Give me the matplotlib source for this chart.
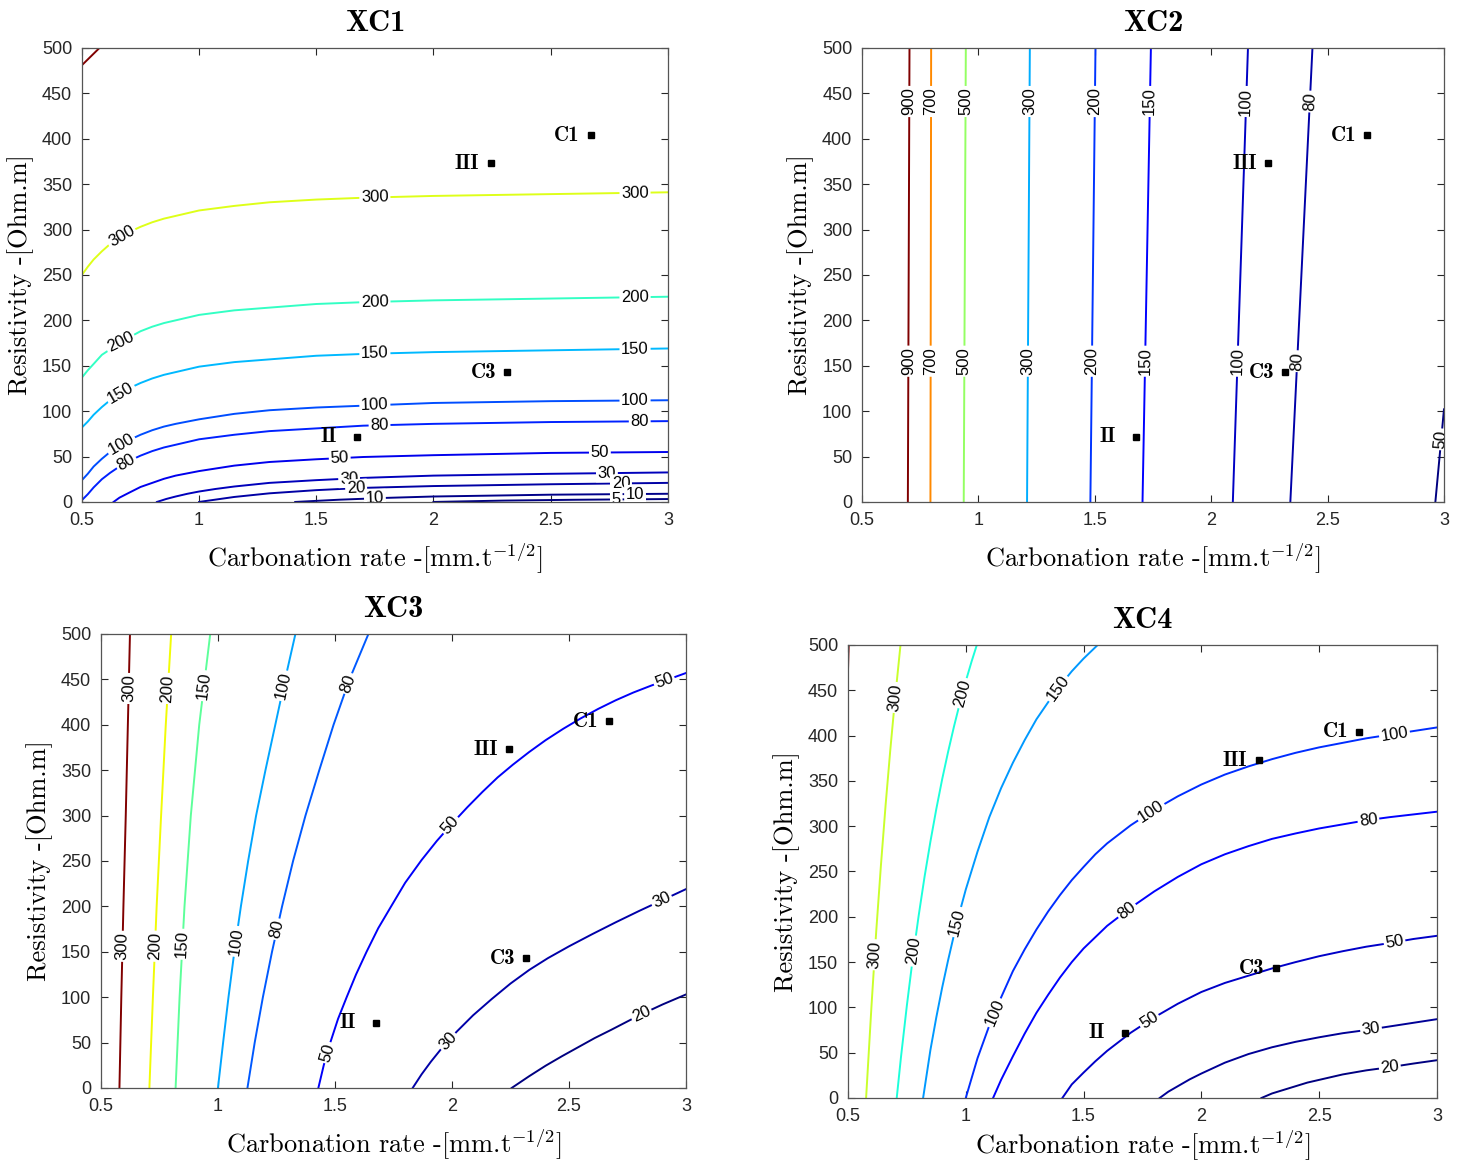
import numpy as np
import matplotlib
matplotlib.use('Agg')
import matplotlib.pyplot as plt
from matplotlib.colors import Normalize

plt.rcParams['mathtext.fontset'] = 'cm'
plt.rcParams['font.family'] = ['Liberation Sans', 'DejaVu Sans']

# ---------------- data ----------------
# axis ticks (shared)
xtick_vals = [0.5, 1, 1.5, 2, 2.5, 3]
xtick_labels = ['0.5', '1', '1.5', '2', '2.5', '3']
ytick_vals = [0, 50, 100, 150, 200, 250, 300, 350, 400, 450, 500]

# reference points (same in every panel)
pt_names = ['C1', 'III', 'C3', 'II']
pt_x = [2.67, 2.245, 2.315, 1.675]
pt_y = [404, 373, 143, 72]

# XC1 contour lines (carbonation rate, resistivity)
xc1_levels = [500, 300, 200, 150, 100, 80, 50, 30, 20, 10, 5]
xc1_xs = [
    [0.5, 0.575],
    [0.5, 0.525, 0.55, 0.585, 0.62, 0.66, 0.7, 0.75, 0.8, 0.85, 0.9, 1.0, 1.15, 1.3, 1.5, 1.7, 2.0, 2.5, 3.0],
    [0.5, 0.525, 0.55, 0.585, 0.62, 0.66, 0.7, 0.75, 0.8, 0.85, 0.9, 1.0, 1.15, 1.3, 1.5, 1.7, 2.0, 2.5, 3.0],
    [0.5, 0.525, 0.55, 0.585, 0.62, 0.66, 0.7, 0.75, 0.8, 0.85, 0.9, 1.0, 1.15, 1.3, 1.5, 1.7, 2.0, 2.5, 3.0],
    [0.5, 0.525, 0.55, 0.585, 0.62, 0.66, 0.7, 0.75, 0.8, 0.85, 0.9, 1.0, 1.15, 1.3, 1.5, 1.7, 2.0, 2.5, 3.0],
    [0.5, 0.525, 0.55, 0.585, 0.62, 0.66, 0.7, 0.75, 0.8, 0.85, 0.9, 1.0, 1.15, 1.3, 1.5, 1.7, 2.0, 2.5, 3.0],
    [0.635, 0.66, 0.7, 0.75, 0.8, 0.85, 0.9, 1.0, 1.15, 1.3, 1.5, 1.7, 2.0, 2.5, 3.0],
    [0.82, 0.86, 0.9, 0.95, 1.0, 1.07, 1.15, 1.3, 1.5, 1.7, 2.0, 2.5, 3.0],
    [1.0, 1.15, 1.3, 1.5, 1.7, 2.0, 2.5, 3.0],
    [1.41, 1.6, 1.8, 2.0, 2.5, 3.0],
    [2.0, 2.3, 2.6, 3.0],
]
xc1_ys = [
    [481, 500],
    [250, 259, 267, 276, 284, 291, 297, 303, 308, 312, 315, 321, 326, 330, 333, 335, 337, 339, 341],
    [137, 145, 152, 162, 168, 176, 181, 188, 193, 197, 200, 206, 211, 214, 218, 220, 222, 224, 226],
    [82, 88.5, 96, 104.5, 112, 119, 125, 131, 136, 140, 143, 149, 154, 157, 161, 163, 165, 167, 169],
    [24, 31, 39, 47.5, 55, 62, 68, 74, 79, 83, 86, 91, 97, 101, 104, 106, 109, 111, 112],
    [2, 8.5, 16, 25, 32, 39, 45, 51, 56, 60, 63, 69, 74, 78, 81, 84, 86, 88, 89],
    [0, 4.7, 10, 16.5, 21, 25.5, 29, 34, 40, 44, 47, 49.5, 51.5, 54, 55],
    [0, 3.3, 6, 9, 11.5, 14.3, 17, 21, 24, 26.5, 29, 31, 32.5],
    [0, 5.5, 9.5, 13, 15.5, 17.5, 19.5, 21],
    [0, 2.5, 4.5, 6, 8, 9],
    [0, 1.5, 2.4, 3.2],
]
xc1_lab_lev = [300, 300, 300, 200, 200, 200, 150, 150, 150, 100, 100, 100,
               80, 80, 80, 50, 50, 30, 30, 20, 20, 10, 10, 5]
xc1_lab_x = [0.67, 1.75, 2.86, 0.67, 1.75, 2.86, 0.67, 1.75, 2.86, 0.67, 1.75, 2.86,
             0.69, 1.77, 2.88, 1.60, 2.71, 1.64, 2.74, 1.67, 2.80, 1.75, 2.86, 2.78]
xc1_lab_y = [292, 335, 339, 173, 220, 225, 118, 164, 168, 62, 106, 111,
             43, 83, 88, 48, 54, 26, 31, 15, 20, 5, 8.5, 2.5]
xc1_crange = [5, 480]

# XC2
xc2_levels = [900, 700, 500, 300, 200, 150, 100, 80, 50]
xc2_xs = [[0.697, 0.704], [0.794, 0.797], [0.937, 0.946], [1.209, 1.221],
          [1.481, 1.503], [1.705, 1.741], [2.093, 2.158], [2.34, 2.435],
          [2.963, 3.0]]
xc2_ys = [[0, 500], [0, 500], [0, 500], [0, 500], [0, 500], [0, 500],
          [0, 500], [0, 500], [0, 102]]
xc2_lab_lev = [900, 900, 700, 700, 500, 500, 300, 300, 200, 200,
               150, 150, 100, 100, 80, 80, 50]
xc2_lab_x = [0.70, 0.70, 0.80, 0.80, 0.94, 0.94, 1.22, 1.21, 1.50, 1.49,
             1.74, 1.71, 2.15, 2.11, 2.42, 2.37, 2.985]
xc2_lab_y = [441, 155, 441, 155, 441, 155, 441, 155, 441, 155,
             441, 155, 441, 155, 441, 155, 69]
xc2_crange = [50, 900]

# XC3
xc3_levels = [300, 200, 150, 100, 80, 50, 30, 20]
xc3_xs = [
    [0.579, 0.587, 0.596, 0.606, 0.615, 0.624],
    [0.707, 0.722, 0.738, 0.757, 0.777, 0.80],
    [0.819, 0.836, 0.857, 0.884, 0.92, 0.967],
    [1.0, 1.022, 1.045, 1.07, 1.098, 1.129, 1.163, 1.203, 1.245, 1.287, 1.331],
    [1.126, 1.157, 1.192, 1.231, 1.274, 1.321, 1.374, 1.433, 1.494, 1.562, 1.643],
    [1.429, 1.452, 1.48, 1.513, 1.55, 1.59, 1.635, 1.685, 1.74, 1.80, 1.87, 1.935,
     2.0, 2.065, 2.13, 2.195, 2.26, 2.33, 2.4, 2.475, 2.55, 2.625, 2.7, 2.775,
     2.85, 2.925, 3.0],
    [1.832, 1.87, 1.91, 1.96, 2.02, 2.09, 2.17, 2.25, 2.33, 2.41, 2.5, 2.6, 2.7,
     2.8, 2.9, 3.0],
    [2.255, 2.33, 2.4, 2.47, 2.54, 2.61, 2.68, 2.74, 2.8, 2.9, 3.0],
]
xc3_ys = [
    [0, 100, 200, 300, 400, 500],
    [0, 100, 200, 300, 400, 500],
    [0, 100, 200, 300, 400, 500],
    [0, 50, 100, 150, 200, 250, 300, 350, 400, 450, 500],
    [0, 50, 100, 150, 200, 250, 300, 350, 400, 450, 500],
    [0, 25, 50, 76, 100, 125, 150, 176, 200, 226, 251, 272, 291, 309, 326, 342,
     356, 370, 383, 395.5, 407, 417.5, 427, 435.5, 443, 450, 457],
    [0, 15, 29, 45, 62, 80, 98, 115, 130, 143, 156, 169.5, 182.5, 195, 207, 219],
    [0, 13, 24.5, 35, 45, 55, 64, 72, 80, 92, 103],
]
xc3_lab_lev = [300, 300, 200, 200, 150, 150, 100, 100, 80, 80, 50, 50, 50, 30, 30, 20]
xc3_lab_x = [0.598, 0.61, 0.744, 0.785, 0.868, 0.94, 1.09, 1.28, 1.25, 1.55,
             1.48, 2.0, 2.91, 1.99, 2.89, 2.81]
xc3_lab_y = [156, 440, 156, 440, 158, 443, 161, 443, 175, 446,
             38, 288, 446, 50, 210, 81]
xc3_crange = [20, 300]

# XC4
xc4_levels = [500, 300, 200, 150, 100, 80, 50, 30, 20]
xc4_xs = [
    [0.5, 0.503],
    [0.577, 0.6, 0.62, 0.64, 0.66, 0.68, 0.7, 0.723],
    [0.707, 0.725, 0.75, 0.775, 0.8, 0.825, 0.85, 0.875, 0.9, 0.925, 0.95, 0.975,
     1.0, 1.025, 1.047],
    [0.819, 0.85, 0.875, 0.9, 0.925, 0.95, 0.975, 1.0, 1.05, 1.1, 1.15, 1.2, 1.25,
     1.3, 1.35, 1.4, 1.45, 1.5, 1.56],
    [1.0, 1.05, 1.1, 1.15, 1.2, 1.25, 1.3, 1.35, 1.4, 1.45, 1.5, 1.55, 1.6, 1.7,
     1.8, 1.9, 2.0, 2.1, 2.2, 2.3, 2.4, 2.5, 2.6, 2.7, 2.8, 2.9, 3.0],
    [1.116, 1.15, 1.2, 1.25, 1.3, 1.35, 1.4, 1.45, 1.5, 1.6, 1.7, 1.8, 1.9, 2.0,
     2.1, 2.2, 2.3, 2.4, 2.5, 2.6, 2.7, 2.8, 2.9, 3.0],
    [1.41, 1.45, 1.5, 1.55, 1.6, 1.7, 1.8, 1.9, 2.0, 2.1, 2.2, 2.3, 2.4, 2.5, 2.6,
     2.7, 2.8, 2.9, 3.0],
    [1.823, 1.86, 1.9, 1.95, 2.0, 2.1, 2.2, 2.3, 2.4, 2.5, 2.6, 2.7, 2.85, 3.0],
    [2.255, 2.3, 2.35, 2.45, 2.6, 2.7, 2.8, 2.9, 3.0],
]
xc4_ys = [
    [470, 500],
    [0, 102, 184, 257, 324, 385, 441, 500],
    [0, 45, 102, 154, 201, 244, 283, 319, 352, 382, 410, 436, 460, 482, 500],
    [0, 53, 89, 122, 152, 180, 206, 230, 272, 310, 342, 370, 395, 418, 437, 455,
     471, 485, 500],
    [0, 44, 80, 111, 140, 164, 186, 206, 224, 240.5, 255, 269, 281, 301, 318, 333,
     346, 357, 366, 374, 381, 387, 392, 397, 401, 405, 409],
    [0, 20, 46, 71, 94, 114, 133, 150, 165, 190, 210, 228, 244, 258, 269, 278,
     286, 292, 297.5, 302, 306.5, 310, 313, 316],
    [0, 15, 28, 40.5, 52, 72, 89, 104, 117, 127, 135, 143, 150, 156.5, 162, 167,
     171, 175.5, 179],
    [0, 7, 13, 20.5, 27, 39, 48.5, 56, 62, 67, 71.5, 75, 81, 87],
    [0, 5, 9, 17, 26, 30.5, 34, 38, 41.7],
]
xc4_lab_lev = [300, 300, 200, 200, 150, 150, 100, 100, 100, 80, 80, 50, 50, 30, 20]
xc4_lab_x = [0.619, 0.704, 0.784, 0.984, 0.967, 1.396, 1.124, 1.786, 2.82,
             1.686, 2.71, 1.78, 2.82, 2.72, 2.80]
xc4_lab_y = [158, 442, 162, 447, 194, 451, 94, 316, 401, 206, 305, 85, 172, 76, 34]
xc4_crange = [20, 490]

panels = [
    ('XC1', [0.0560, 0.5684, 0.4005, 0.3904], xc1_levels, xc1_xs, xc1_ys,
     xc1_lab_lev, xc1_lab_x, xc1_lab_y, xc1_crange, 8),
    ('XC2', [0.5892, 0.5684, 0.3978, 0.3904], xc2_levels, xc2_xs, xc2_ys,
     xc2_lab_lev, xc2_lab_x, xc2_lab_y, xc2_crange, 8),
    ('XC3', [0.0690, 0.0645, 0.3999, 0.3904], xc3_levels, xc3_xs, xc3_ys,
     xc3_lab_lev, xc3_lab_x, xc3_lab_y, xc3_crange, 8),
    ('XC4', [0.5796, 0.0559, 0.4026, 0.3895], xc4_levels, xc4_xs, xc4_ys,
     xc4_lab_lev, xc4_lab_x, xc4_lab_y, xc4_crange, 2),
]

axis_col = '#262626'


def put_label(ax, xs, ys, lx, ly, txt):
    # snap the label onto the nearest point of its line, rotate along it
    pts = ax.transData.transform(np.column_stack([xs, ys]))
    p = ax.transData.transform((lx, ly))
    best = None
    for i in range(len(pts) - 1):
        a, b = pts[i], pts[i + 1]
        d = b - a
        t = np.clip(np.dot(p - a, d) / np.dot(d, d), 0, 1)
        q = a + t * d
        dist = np.hypot(*(p - q))
        if best is None or dist < best[0]:
            best = (dist, q, d)
    q, d = best[1], best[2]
    ang = np.degrees(np.arctan2(d[1], d[0]))
    if ang > 90:
        ang -= 180
    if ang <= -90:
        ang += 180
    x, y = ax.transData.inverted().transform(q)
    ax.text(x, y, txt, rotation=ang, rotation_mode='anchor', ha='center',
            va='center', fontsize=12, color='black', zorder=4, clip_on=True,
            bbox=dict(boxstyle='square,pad=0.1', fc='white', ec='none'))


fig = plt.figure(figsize=(14.63, 11.63), dpi=100)
cmap = plt.get_cmap('jet')

for name, pos, levels, xs, ys, lab_lev, lab_x, lab_y, crange, xpad in panels:
    ax = fig.add_axes(pos)
    ax.set_xlim(0.5, 3)
    ax.set_ylim(0, 500)
    norm = Normalize(crange[0], crange[1])

    for lev, lx, ly in zip(levels, xs, ys):
        ax.plot(lx, ly, color=cmap(norm(lev)), lw=1.4, zorder=2)

    for lev, tx, ty in zip(lab_lev, lab_x, lab_y):
        k = levels.index(lev)
        put_label(ax, xs[k], ys[k], tx, ty, str(lev))

    ax.plot(pt_x, pt_y, 's', color='black', ms=5, zorder=5)
    for nm, px, py in zip(pt_names, pt_x, pt_y):
        ax.text(px - 0.155, py, nm, family='cmb10', fontsize=15, ha='left',
                va='center', zorder=6)

    ax.set_xticks(xtick_vals)
    ax.set_xticklabels(xtick_labels)
    ax.set_yticks(ytick_vals)
    ax.tick_params(direction='in', top=True, right=True, length=5, width=0.8,
                   labelsize=13, colors=axis_col, pad=7)
    for sp in ax.spines.values():
        sp.set_color('#555555')
        sp.set_linewidth(0.9)

    ax.set_title(name, family='cmb10', fontsize=22, pad=12)
    ax.set_xlabel(r'Carbonation rate -[mm.t$^{-1/2}$]', family='cmr10',
                  fontsize=19, labelpad=xpad)
    ax.set_ylabel('Resistivity -[Ohm.m]', family='cmr10', fontsize=19,
                  labelpad=6)

fig.savefig('out.png', dpi=100)
